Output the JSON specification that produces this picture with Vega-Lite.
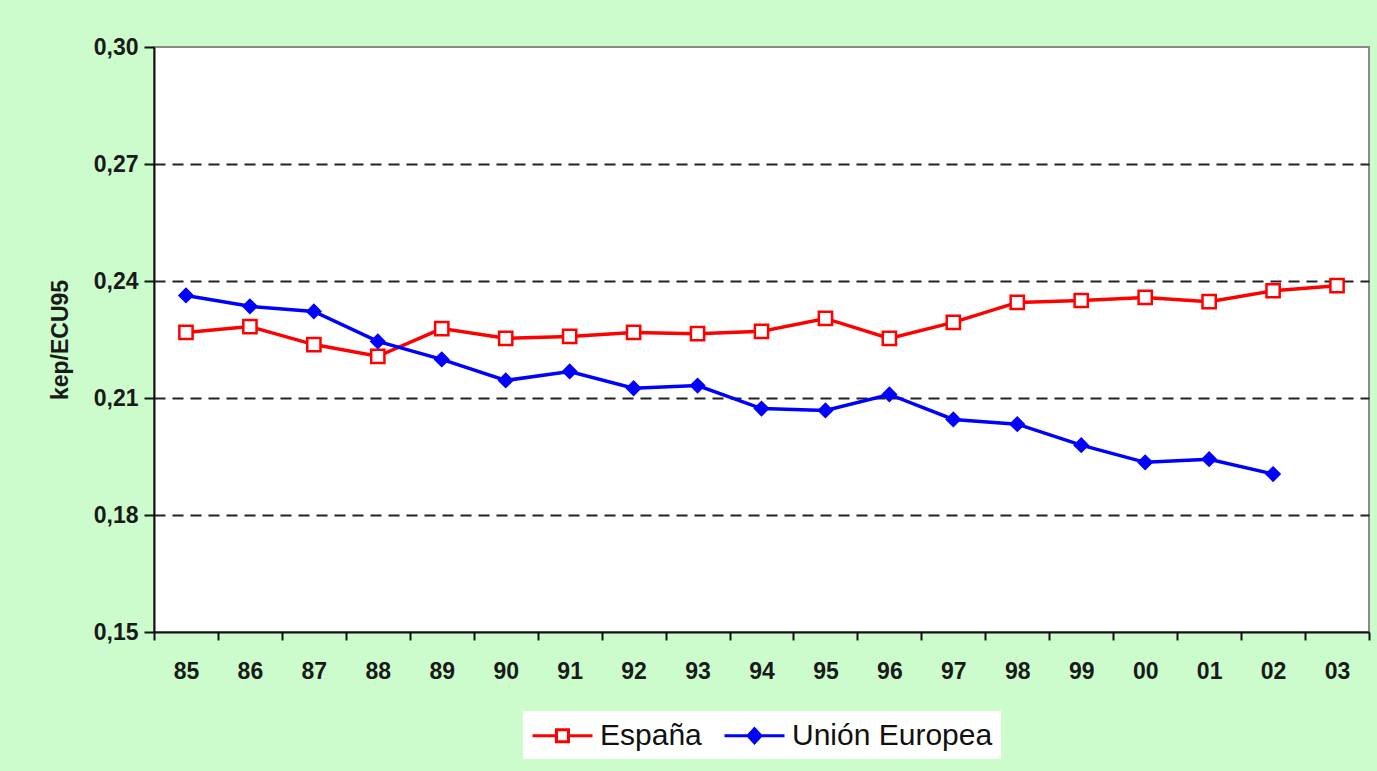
{
  "$schema": "https://vega.github.io/schema/vega-lite/v6.json",
  "width": 1215,
  "height": 585,
  "autosize": {"type": "none"},
  "padding": {"left": 154, "top": 47, "right": 8, "bottom": 139},
  "background": "#ccfccc",
  "config": {
    "view": {"fill": "white", "stroke": "#8a8a8a", "strokeWidth": 2},
    "font": "Liberation Sans",
    "legend": {"layout": {"bottom": {"anchor": "middle"}}}
  },
  "data": {
    "values": [
      {"year": "85", "serie": "España", "value": 0.2268},
      {"year": "86", "serie": "España", "value": 0.2283},
      {"year": "87", "serie": "España", "value": 0.2237},
      {"year": "88", "serie": "España", "value": 0.2207},
      {"year": "89", "serie": "España", "value": 0.2278},
      {"year": "90", "serie": "España", "value": 0.2253},
      {"year": "91", "serie": "España", "value": 0.2258},
      {"year": "92", "serie": "España", "value": 0.2268},
      {"year": "93", "serie": "España", "value": 0.2265},
      {"year": "94", "serie": "España", "value": 0.2271},
      {"year": "95", "serie": "España", "value": 0.2304},
      {"year": "96", "serie": "España", "value": 0.2253},
      {"year": "97", "serie": "España", "value": 0.2294},
      {"year": "98", "serie": "España", "value": 0.2345},
      {"year": "99", "serie": "España", "value": 0.2350},
      {"year": "00", "serie": "España", "value": 0.2358},
      {"year": "01", "serie": "España", "value": 0.2347},
      {"year": "02", "serie": "España", "value": 0.2375},
      {"year": "03", "serie": "España", "value": 0.2388},
      {"year": "85", "serie": "Unión Europea", "value": 0.2363},
      {"year": "86", "serie": "Unión Europea", "value": 0.2335},
      {"year": "87", "serie": "Unión Europea", "value": 0.2322},
      {"year": "88", "serie": "Unión Europea", "value": 0.2245},
      {"year": "89", "serie": "Unión Europea", "value": 0.2199},
      {"year": "90", "serie": "Unión Europea", "value": 0.2145},
      {"year": "91", "serie": "Unión Europea", "value": 0.2168},
      {"year": "92", "serie": "Unión Europea", "value": 0.2125},
      {"year": "93", "serie": "Unión Europea", "value": 0.2132},
      {"year": "94", "serie": "Unión Europea", "value": 0.2073},
      {"year": "95", "serie": "Unión Europea", "value": 0.2068},
      {"year": "96", "serie": "Unión Europea", "value": 0.2109},
      {"year": "97", "serie": "Unión Europea", "value": 0.2045},
      {"year": "98", "serie": "Unión Europea", "value": 0.2033},
      {"year": "99", "serie": "Unión Europea", "value": 0.1979},
      {"year": "00", "serie": "Unión Europea", "value": 0.1935},
      {"year": "01", "serie": "Unión Europea", "value": 0.1943},
      {"year": "02", "serie": "Unión Europea", "value": 0.1905}
    ]
  },
  "encoding": {
    "x": {
      "field": "year",
      "type": "ordinal",
      "sort": ["85","86","87","88","89","90","91","92","93","94","95","96","97","98","99","00","01","02","03"],
      "scale": {"type": "band", "paddingInner": 0, "paddingOuter": 0},
      "bandPosition": 0.5,
      "axis": {
        "title": null,
        "labelAngle": 0,
        "tickBand": "extent",
        "domainColor": "#111111",
        "domainWidth": 2,
        "tickColor": "#111111",
        "tickWidth": 2,
        "tickSize": 8,
        "labelPadding": 20,
        "labelFont": "Liberation Sans",
        "labelFontWeight": "bold",
        "labelFontSize": 23,
        "labelColor": "#1a1a1a"
      }
    },
    "y": {
      "field": "value",
      "type": "quantitative",
      "scale": {"domain": [0.15, 0.30], "zero": false, "nice": false},
      "axis": {
        "title": "kep/ECU95",
        "titleFont": "Liberation Sans",
        "titleFontWeight": "bold",
        "titleFontSize": 23,
        "titleColor": "#1a1a1a",
        "titlePadding": 21,
        "values": [0.15, 0.18, 0.21, 0.24, 0.27, 0.30],
        "labelExpr": "replace(format(datum.value, '.2f'), '.', ',')",
        "labelFont": "Liberation Sans",
        "labelFontWeight": "bold",
        "labelFontSize": 23,
        "labelColor": "#1a1a1a",
        "labelPadding": 6,
        "domainColor": "#111111",
        "domainWidth": 2,
        "tickColor": "#111111",
        "tickWidth": 2,
        "tickSize": 10,
        "grid": true,
        "gridColor": {"condition": {"test": "datum.value < 0.16 || datum.value > 0.29", "value": "transparent"}, "value": "#222222"},
        "gridWidth": 2,
        "gridDash": [11, 7]
      }
    }
  },
  "layer": [
    {
      "mark": {"type": "line", "strokeWidth": 3.5},
      "encoding": {
        "color": {
          "field": "serie",
          "type": "nominal",
          "scale": {"domain": ["España", "Unión Europea"], "range": ["#ff0000", "#0000ff"]},
          "legend": {
            "title": null,
            "orient": "bottom",
            "direction": "horizontal",
            "offset": 28,
            "fillColor": "white",
            "padding": 8,
            "labelFont": "Liberation Sans",
            "labelFontSize": 30,
            "labelColor": "#111111",
            "labelLimit": 400,
            "labelOffset": 36,
            "columnPadding": 16,
            "symbolSize": 900,
            "symbolStrokeWidth": 3,
            "encode": {
              "symbols": {
                "update": {
                  "shape": {"signal": "datum.value == 'España' ? 'M-1,0L0.6,0M1.4,0L3,0M0.6,-0.4L1.4,-0.4L1.4,0.4L0.6,0.4Z' : 'M-1,0L3,0M1,-0.47L1.43,0L1,0.47L0.57,0Z'"},
                  "fill": {"signal": "datum.value == 'España' ? 'white' : '#0000ff'"},
                  "strokeWidth": {"value": 3}
                }
              }
            }
          }
        }
      }
    },
    {
      "transform": [{"filter": "datum.serie == 'España'"}],
      "mark": {"type": "point", "shape": "square", "filled": true, "fill": "white", "stroke": "#ff0000", "strokeWidth": 2.5, "size": 175, "opacity": 1}
    },
    {
      "transform": [{"filter": "datum.serie == 'Unión Europea'"}],
      "mark": {"type": "point", "shape": "diamond", "filled": true, "fill": "#0000ff", "stroke": "#0000ff", "strokeWidth": 1.5, "size": 200, "opacity": 1}
    }
  ]
}
